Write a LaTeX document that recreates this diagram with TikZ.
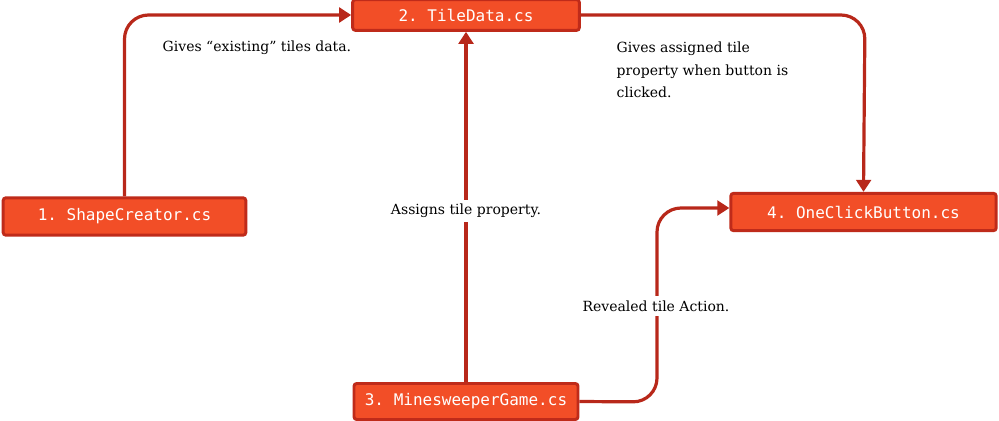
\documentclass[tikz,border=0pt]{standalone}
\usepackage{fontspec}
\setmainfont{DejaVu Serif}
\setmonofont{DejaVu Sans Mono}
\usetikzlibrary{arrows.meta}
\definecolor{boxfill}{HTML}{F24E27}
\definecolor{boxline}{HTML}{BF2B1A}
\definecolor{arrowred}{HTML}{B8281A}
\tikzstyle{file}=[draw=boxline,fill=boxfill,line width=2.2pt,rounded corners=2pt,text=white,font=\ttfamily\fontsize{12}{14}\selectfont,inner sep=0pt]
\tikzstyle{line} = [draw=arrowred,line width=2.4pt,rounded corners=18pt,-{Triangle[length=9pt,width=11pt]}]
\tikzstyle{note}=[font=\fontsize{10.5}{17}\selectfont,align=left]

\begin{document}
\begin{tikzpicture}[x=0.75pt,y=-0.75pt]
  \useasboundingbox (0,0) rectangle (999,421);

  \node[file,minimum width=182pt,minimum height=28pt] (shape) at (124.5,216.5) {1. ShapeCreator.cs};
  \node[file,minimum width=170pt,minimum height=23pt] (tile) at (466,15) {2. TileData.cs};
  \node[file,minimum width=168pt,minimum height=27pt] (mine) at (466,401.5) {3. MinesweeperGame.cs};
  \node[file,minimum width=199pt,minimum height=28pt] (button) at (863.5,212) {4. OneClickButton.cs};

  % connectors
  \draw[line] (shape.north) -- (124.5,15) -- (tile.west);
  \draw[line] (mine.north) -- (tile.south);
  \draw[line] (tile.east) -- (865,15) -- (button.north);
  \draw[line] (mine.east) -- (657,402) -- (657,208) -- (button.west |- 0,208);

  % labels
  \node[note,anchor=west] (existing) at (158,48) {Gives “existing” tiles data.};
  \node[note,anchor=north west] (assigned) at (612,37) {Gives assigned tile\\property when button is\\clicked.};
  \node[note,fill=white] (assigns) at (466,211) {Assigns tile property.};
  \node[note,fill=white] (revealed) at (656,306) {Revealed tile Action.};
\end{tikzpicture}
\end{document}
